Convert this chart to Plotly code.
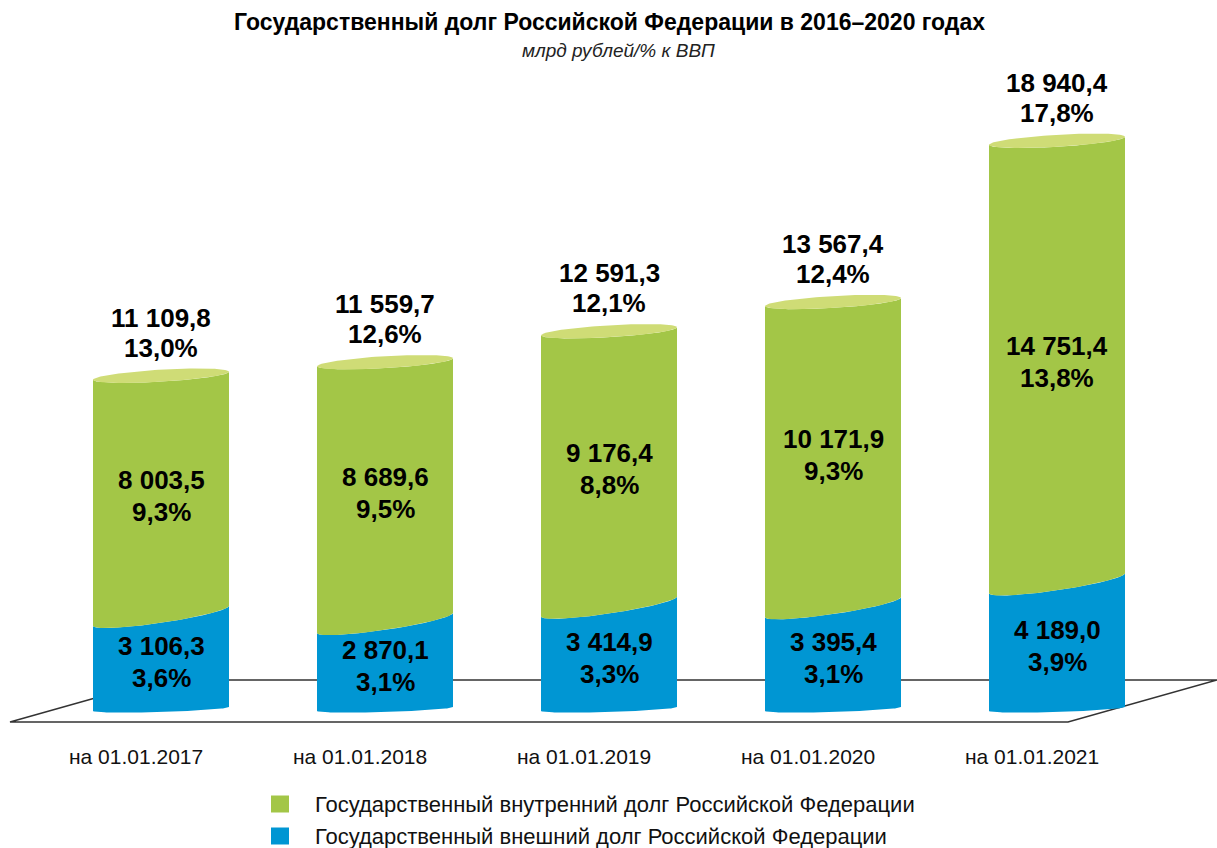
import numpy as np
import plotly.graph_objects as go

# Государственный долг РФ, млрд рублей / % к ВВП
dates = ["на 01.01.2017", "на 01.01.2018", "на 01.01.2019", "на 01.01.2020", "на 01.01.2021"]
external_debt = [3106.3, 2870.1, 3414.9, 3395.4, 4189.0]
external_pct = [3.6, 3.1, 3.3, 3.1, 3.9]
domestic_debt = [8003.5, 8689.6, 9176.4, 10171.9, 14751.4]
domestic_pct = [9.3, 9.5, 8.8, 9.3, 13.8]
total_debt = [11109.8, 11559.7, 12591.3, 13567.4, 18940.4]
total_pct = [13.0, 12.6, 12.1, 12.4, 17.8]

legend_names = [
    "Государственный внутренний долг Российской Федерации",
    "Государственный внешний долг Российской Федерации",
]

GREEN = "#a3c647"
GREEN_TOP = "#cfdc76"
BLUE = "#0096d3"
FONT = "Liberation Sans, Arial, sans-serif"

# page geometry (px)
W, H = 1217, 848
ML, MR, MT, MB = 49, 48, 60, 108
plot_w = W - ML - MR
plot_h = H - MT - MB
px_per_unit = 0.030          # vertical scale, px per bln rubles
zero_px = 709                # screen row of the zero level
y_low = -(H - MB - zero_px) / px_per_unit
y_high = (zero_px - MT) / px_per_unit
px_per_x = plot_w / 5.0

half_w = 68 / px_per_x       # cylinder half width in x units


def fmt_num(v):
    return f"{v:,.1f}".replace(",", " ").replace(".", ",")


def fmt_pct(v):
    return f"{v:.1f}".replace(".", ",") + "%"


def rim(xc, level, b_px, s_px, t0, t1, n=60):
    """Points of a tilted ellipse rim around the cylinder axis at a given data level."""
    t = np.linspace(t0, t1, n)
    xs = xc - half_w * np.cos(t)
    ys = level - (b_px * np.sin(t) + s_px * np.cos(t)) / px_per_unit
    return list(xs), list(ys)


def px_x(p):
    return (p - ML) / plot_w


def px_y(p):
    return (H - MB - p) / plot_h


fig = go.Figure()

for i in range(len(dates)):
    ext = external_debt[i]
    tot = ext + domestic_debt[i]
    # blue (external) body: bottom rim -> boundary rim
    bx, by = rim(i, 0, 3, 2, 0, np.pi)
    mx, my = rim(i, ext, 7, 10, 0, np.pi)
    fig.add_trace(go.Scatter(
        x=bx + mx[::-1], y=by + my[::-1], fill="toself", fillcolor=BLUE,
        mode="lines", line=dict(width=0, color=BLUE), hoverinfo="skip", showlegend=False))
    # green (domestic) body: boundary rim -> top rim
    tx, ty = rim(i, tot, 6, 4, 0, np.pi)
    fig.add_trace(go.Scatter(
        x=mx + tx[::-1], y=my + ty[::-1], fill="toself", fillcolor=GREEN,
        mode="lines", line=dict(width=0, color=GREEN), hoverinfo="skip", showlegend=False))
    # top face
    fx, fy = rim(i, tot, 6, 4, 0, 2 * np.pi, 120)
    fig.add_trace(go.Scatter(
        x=fx, y=fy, fill="toself", fillcolor=GREEN_TOP,
        mode="lines", line=dict(width=0, color=GREEN_TOP), hoverinfo="skip", showlegend=False))

annotations = []
lbl_font = dict(family=FONT, size=26, color="black")
for i in range(len(dates)):
    ext = external_debt[i]
    dom = domestic_debt[i]
    for txt, val, shift in [(fmt_num(ext), ext / 2, 16), (fmt_pct(external_pct[i]), ext / 2, -16),
                            (fmt_num(dom), ext + dom / 2, 16), (fmt_pct(domestic_pct[i]), ext + dom / 2, -16)]:
        annotations.append(dict(x=i, y=val, xref="x", yref="y", text=f"<b>{txt}</b>",
                                showarrow=False, yshift=shift, font=lbl_font))
    annotations.append(dict(x=i, y=total_debt[i], xref="x", yref="y", text=f"<b>{fmt_num(total_debt[i])}</b>",
                            showarrow=False, yshift=58, font=lbl_font))
    annotations.append(dict(x=i, y=total_debt[i], xref="x", yref="y", text=f"<b>{fmt_pct(total_pct[i])}</b>",
                            showarrow=False, yshift=28, font=lbl_font))
    # date label under each cylinder
    annotations.append(dict(x=i, y=px_y(757), xref="x", yref="paper", text=dates[i],
                            showarrow=False, xshift=-25, yanchor="middle",
                            font=dict(family=FONT, size=21, color="#111")))

# title and units
annotations.append(dict(x=0.5, y=px_y(22), xref="paper", yref="paper", xanchor="center", yanchor="middle",
                        text="<b>Государственный долг Российской Федерации в 2016–2020 годах</b>",
                        showarrow=False, font=dict(family=FONT, size=23, color="black")))
annotations.append(dict(x=px_x(618), y=px_y(50), xref="paper", yref="paper", xanchor="center", yanchor="middle",
                        text="<i>млрд рублей/% к ВВП</i>", showarrow=False,
                        font=dict(family=FONT, size=19, color="#222")))

# legend
shapes = []
legend_colors = [GREEN, BLUE]
for j, (name, col) in enumerate(zip(legend_names, legend_colors)):
    cy = 804 + 32 * j
    shapes.append(dict(type="rect", xref="paper", yref="paper",
                       x0=px_x(271), x1=px_x(289), y0=px_y(cy + 8.5), y1=px_y(cy - 8.5),
                       fillcolor=col, line=dict(width=0)))
    annotations.append(dict(x=px_x(313), y=px_y(cy), xref="paper", yref="paper", xanchor="left",
                            yanchor="middle", text=name, showarrow=False,
                            font=dict(family=FONT, size=22, color="#111")))

# floor of the chart
floor_path = "M {} {} L {} {} L {} {} L {} {} Z".format(
    px_x(10), px_y(722), px_x(1068), px_y(722), px_x(1217), px_y(680), px_x(159), px_y(680))
shapes.append(dict(type="path", path=floor_path, xref="paper", yref="paper", layer="below",
                   line=dict(color="#333", width=1.5)))

fig.update_layout(
    width=W, height=H,
    margin=dict(l=ML, r=MR, t=MT, b=MB),
    paper_bgcolor="white", plot_bgcolor="rgba(0,0,0,0)",
    showlegend=False,
    xaxis=dict(range=[-0.5, 4.5], showticklabels=False,
               showgrid=False, zeroline=False, showline=False, ticks="", fixedrange=True),
    yaxis=dict(range=[y_low, y_high], visible=False, fixedrange=True),
    annotations=annotations,
    shapes=shapes,
)

fig.write_html("out.html")
